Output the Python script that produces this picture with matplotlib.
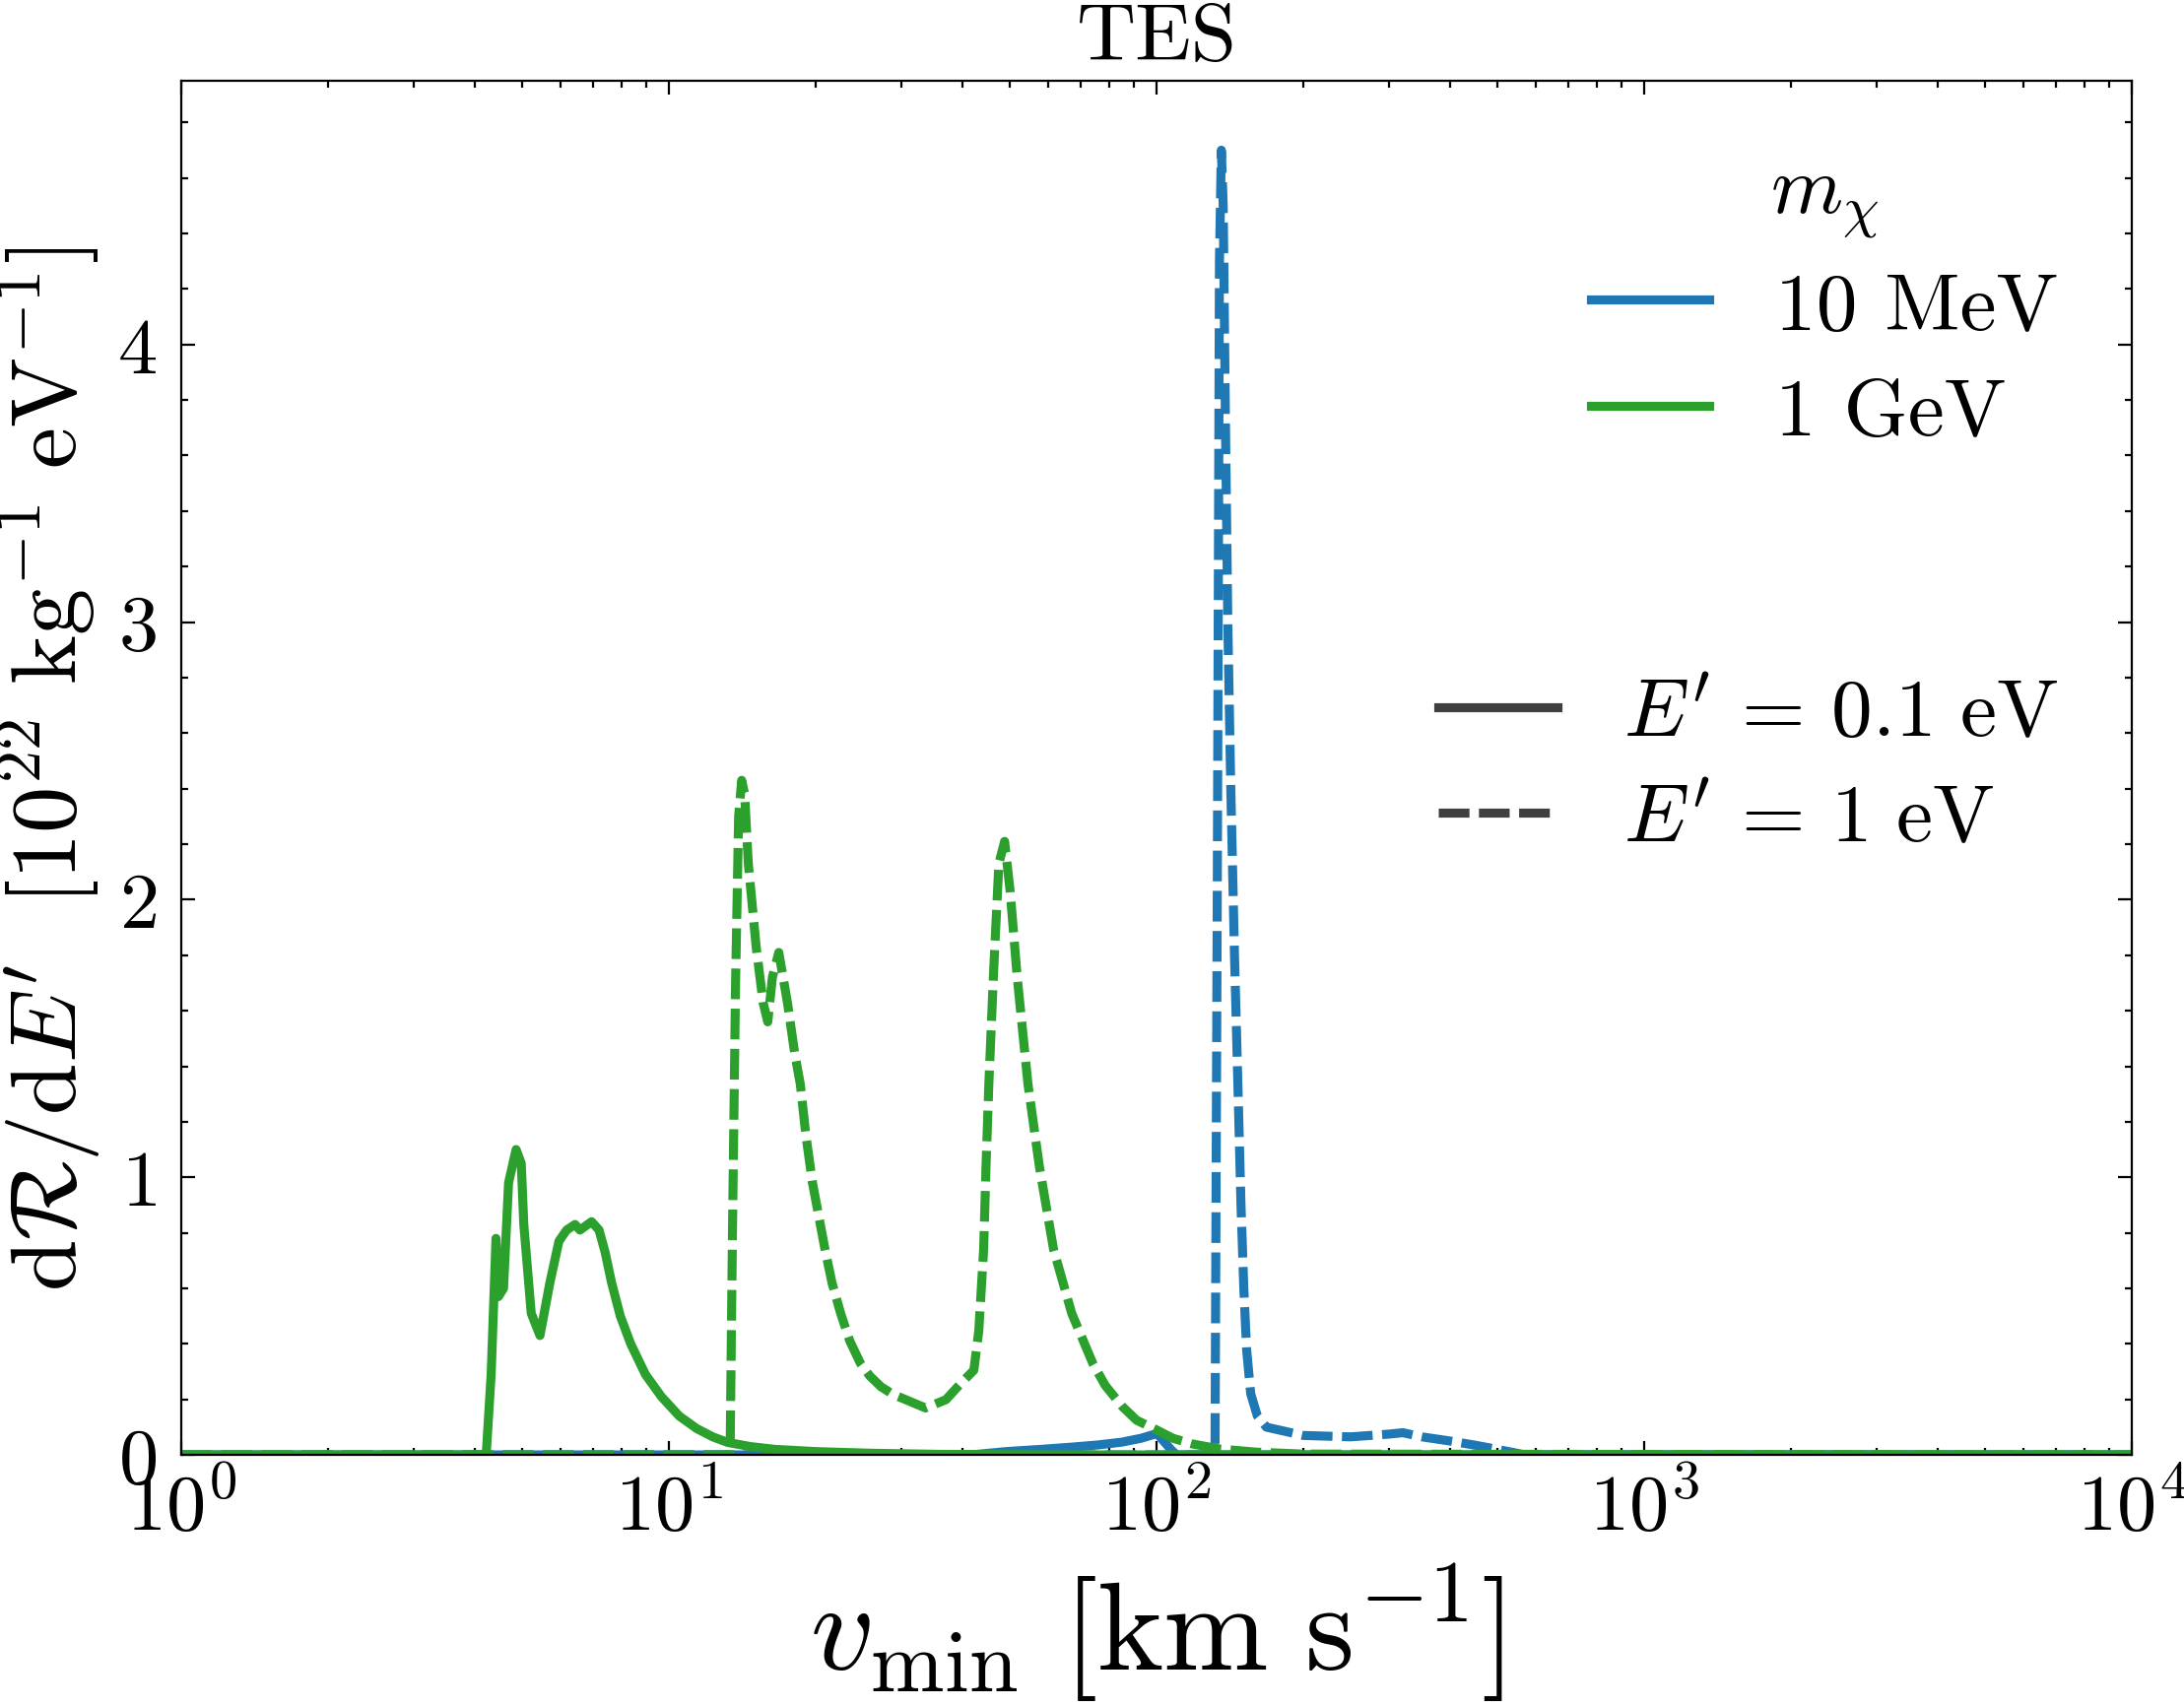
import numpy as np
import matplotlib
matplotlib.use("Agg")
import matplotlib.pyplot as plt
from matplotlib.lines import Line2D
from matplotlib.ticker import AutoMinorLocator, LogLocator

plt.rcParams["font.family"] = "serif"
plt.rcParams["font.serif"] = ["cmr10"]
plt.rcParams["mathtext.fontset"] = "cm"
plt.rcParams["axes.formatter.use_mathtext"] = True

BLUE = "#1f77b4"
GREEN = "#2ca02c"

# m_chi = 10 MeV, E' = 0.1 eV
v_mev_01 = [1, 41.6, 49.2, 58, 67, 76, 84.9, 93, 100.2, 107.6, 110, 1e4]
r_mev_01 = [0, 0, 0.012, 0.02, 0.028, 0.036, 0.046, 0.06, 0.077, 0.015, 0, 0]

# m_chi = 10 MeV, E' = 1 eV
v_mev_1 = [1, 131.8, 133.2, 134.6, 135.8, 137.0, 138.5, 140.0, 142.0, 144.5, 147.0, 149.0,
           151.0, 153.0, 156.0, 161.0, 168.0, 200, 250, 300, 320, 350, 400, 450, 500, 570, 1e4]
r_mev_1 = [0, 0, 2.0, 4.3, 4.70, 4.5, 3.7, 3.0, 2.4, 1.8, 1.3, 0.9,
           0.6, 0.38, 0.22, 0.14, 0.1, 0.07, 0.065, 0.075, 0.08, 0.065, 0.05, 0.035, 0.02, 0, 0]

# m_chi = 1 GeV, E' = 0.1 eV
v_gev_01 = [1, 4.22, 4.32, 4.42, 4.47, 4.58, 4.69, 4.86, 4.98, 5.04, 5.22, 5.44, 5.70,
            5.95, 6.17, 6.42, 6.57, 6.94, 7.19, 7.40, 7.63, 7.95, 8.35, 8.95, 9.65,
            10.5, 11.4, 12.3, 13.2, 14.7, 16.5, 20.0, 26.0, 36.0, 60.0, 1e4]
r_gev_01 = [0, 0, 0.29, 0.78, 0.57, 0.60, 0.98, 1.10, 1.05, 0.83, 0.51, 0.43, 0.62,
            0.77, 0.81, 0.83, 0.81, 0.84, 0.81, 0.73, 0.62, 0.50, 0.40, 0.29, 0.21,
            0.14, 0.095, 0.065, 0.045, 0.03, 0.02, 0.012, 0.006, 0.002, 0, 0]

# m_chi = 1 GeV, E' = 1 eV
v_gev_1 = [1, 13.35, 13.5, 13.7, 13.9, 14.1, 14.3, 14.55, 15.1, 15.6, 15.95, 16.3, 16.8,
           17.5, 18.1, 18.6, 19.1, 19.7, 20.9, 21.6, 22.5, 23.5, 24.7, 25.8, 27.2, 28.8,
           30.6, 33.6, 37.0, 39.7, 42.2, 43.2, 44.2, 44.7, 45.3, 46.3, 47.5, 48.8, 50.1,
           51.8, 54.5, 57.5, 61.5, 67.0, 74.0, 78.5, 85.0, 91.0, 100, 108, 118, 135,
           160, 200, 1e4]
r_gev_1 = [0, 0, 0.8, 1.7, 2.3, 2.43, 2.38, 2.13, 1.83, 1.63, 1.56, 1.72, 1.81,
           1.63, 1.45, 1.335, 1.15, 0.98, 0.74, 0.62, 0.51, 0.41, 0.33, 0.285, 0.246, 0.218,
           0.199, 0.169, 0.199, 0.258, 0.305, 0.447, 0.74, 1.04, 1.335, 1.73, 2.13, 2.21, 2.03,
           1.72, 1.335, 1.04, 0.74, 0.51, 0.33, 0.25, 0.175, 0.125, 0.09, 0.06, 0.04, 0.021,
           0.01, 0.003, 0]

mass_labels = ["10 MeV", "1 GeV"]
energy_labels = [r"$E'\,=\,0.1\ \mathrm{eV}$", r"$E'\,=\,1\ \mathrm{eV}$"]

LW = 3.3
DASH = (3.4, 1.05)

fig = plt.figure(figsize=(11.085, 8.665), dpi=200)
ax = fig.add_axes([0.0830, 0.1471, 0.8931, 0.8050])

ax.plot(v_mev_01, r_mev_01, color=BLUE, lw=LW)
ax.plot(v_mev_1, r_mev_1, color=BLUE, lw=LW, ls="--", dashes=DASH)
ax.plot(v_gev_01, r_gev_01, color=GREEN, lw=LW)
ax.plot(v_gev_1, r_gev_1, color=GREEN, lw=LW, ls="--", dashes=DASH)

ax.set_xscale("log")
ax.set_xlim(1, 1e4)
ax.set_ylim(0, 4.95)
ax.xaxis.set_minor_locator(LogLocator(base=10, subs=np.arange(2, 10) * 1.0, numticks=100))
ax.yaxis.set_minor_locator(AutoMinorLocator(5))

ax.tick_params(which="both", direction="in", top=True, right=True, width=0.8)
ax.tick_params(which="major", length=5, labelsize=29)
ax.tick_params(which="minor", length=2.5)
ax.tick_params(axis="x", which="major", pad=6)
ax.tick_params(axis="y", which="major", pad=9)
for s in ax.spines.values():
    s.set_linewidth(0.8)

ax.set_title("TES", fontsize=30, pad=8)
ax.set_xlabel(r"$v_\mathrm{min}\ [\mathrm{km\ s}^{-1}]$", fontsize=46, va="top")
ax.set_ylabel(r"$\mathrm{d}\mathcal{R}/\mathrm{d}E'\ \ [10^{22}\ \mathrm{kg}^{-1}\ \mathrm{eV}^{-1}]$",
              fontsize=34)
ax.xaxis.set_label_coords(0.5, -0.077)
ax.yaxis.set_label_coords(-0.040, 0.5)

mass_handles = [Line2D([], [], color=c, lw=LW) for c in (BLUE, GREEN)]
leg1 = ax.legend(mass_handles, mass_labels, title=r"$m_\chi$", loc="upper right",
                 frameon=False, fontsize=30, title_fontsize=30, handlelength=1.45,
                 labelspacing=0.4)
ax.add_artist(leg1)

energy_handles = [Line2D([], [], color="#3f3f3f", lw=LW),
                  Line2D([], [], color="#3f3f3f", lw=LW, ls="--", dashes=DASH)]
ax.legend(energy_handles, energy_labels, loc="center right", frameon=False,
          fontsize=30, handlelength=1.45, labelspacing=0.4)

fig.savefig("out.png", dpi=200)
